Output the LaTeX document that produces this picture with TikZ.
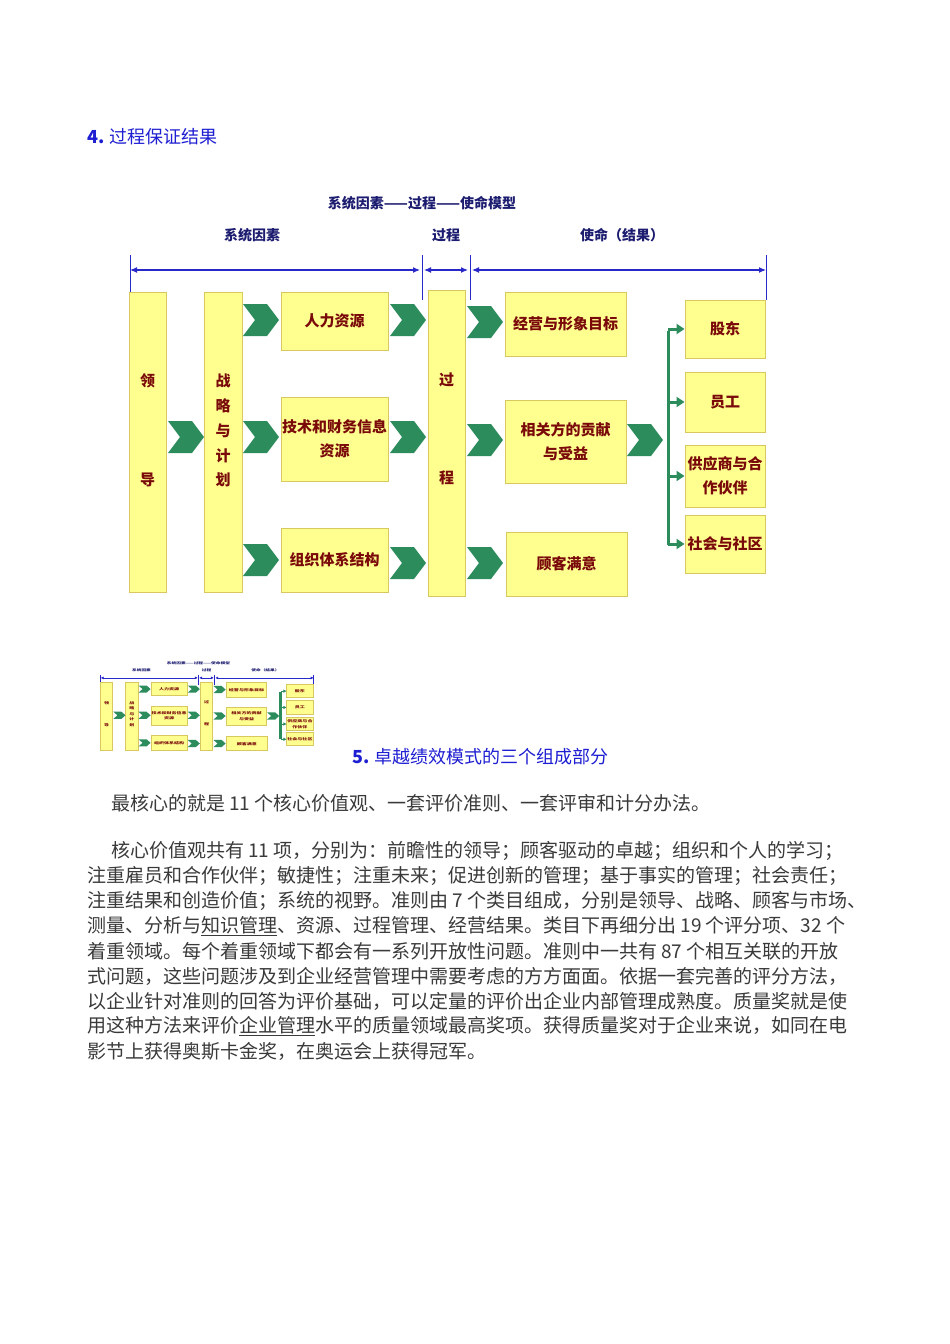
\documentclass[tikz,border=0pt]{standalone}
\usepackage{fontspec}
\newfontfamily\cjk{Noto Sans CJK SC}
\usetikzlibrary{arrows.meta}
\definecolor{boxfill}{HTML}{FFFF90}
\definecolor{boxline}{HTML}{D8C860}
\definecolor{darkred}{HTML}{7A0A0A}
\definecolor{chev}{HTML}{2C8C5C}
\definecolor{navy}{HTML}{1C1C70}
\definecolor{barblue}{HTML}{2828C8}
\definecolor{headblue}{HTML}{1E1ED2}
\definecolor{bodytext}{HTML}{3A3A3A}
\tikzset{
  box/.style={draw=boxline, fill=boxfill, line width=1pt, inner sep=0pt, align=center,
    font=\cjk\bfseries\fontsize{15}{24}\selectfont, text=darkred},
  vtxt/.style={font=\cjk\bfseries\fontsize{15}{18}\selectfont, text=darkred, inner sep=0pt},
  hdr/.style={font=\cjk\bfseries\fontsize{14}{16}\selectfont, text=navy, inner sep=0pt},
  bar/.style={draw=barblue, line width=1.2pt, {Latex[length=7pt,width=6pt]}-{Latex[length=7pt,width=6pt]}},
  tick/.style={draw=barblue, line width=1pt},
  garrow/.style={draw=chev, line width=3pt, -{Triangle[length=8pt,width=10pt]}},
  body/.style={anchor=west, inner sep=0pt, font=\cjk\fontsize{19}{20}\selectfont, text=bodytext},
  head/.style={anchor=west, inner sep=0pt, font=\cjk\fontsize{18}{20}\selectfont, text=headblue},
}
\newcommand\chevr[2]{\fill[chev] (#1,#2-16) -- ++(24,0) -- ++(12,16) -- ++(-12,16) -- ++(-24,0) -- ++(12,-16) -- cycle;}
\newcommand\drawdiagram{%
  \node[hdr] (title) at (422,203) {系统因素——过程——使命模型};
  \node[hdr] (h1) at (252,235) {系统因素};
  \node[hdr] (h2) at (446,235) {过程};
  \node[hdr] (h3) at (622,235) {使命（结果）};
  \coordinate (t1) at (130,255); \coordinate (t2) at (422,255);
  \coordinate (t3) at (470,255); \coordinate (t4) at (766,255);
  \draw[tick] (t1) -- ++(0,45); \draw[tick] (t2) -- ++(0,45);
  \draw[tick] (t3) -- ++(0,45); \draw[tick] (t4) -- ++(0,45);
  \draw[bar] ([yshift=-15pt]t1) -- ([yshift=-15pt,xshift=-2pt]t2);
  \draw[bar] ([yshift=-15pt,xshift=2pt]t2) -- ([yshift=-15pt,xshift=-2pt]t3);
  \draw[bar] ([yshift=-15pt,xshift=2pt]t3) -- ([yshift=-15pt]t4);
  \node[box, minimum width=37pt, minimum height=300pt] (lead) at (147.5,442) {};
  \node[vtxt] at (147.5,381) {领}; \node[vtxt] at (147.5,480) {导};
  \node[box, minimum width=38pt, minimum height=300pt] (strat) at (223,442) {};
  \node[vtxt] at (223,381) {战}; \node[vtxt] at (223,406) {略}; \node[vtxt] at (223,431) {与};
  \node[vtxt] at (223,456) {计}; \node[vtxt] at (223,480) {划};
  \node[box, minimum width=107pt, minimum height=58pt] (hr) at (334.5,321) {人力资源};
  \node[box, minimum width=107pt, minimum height=84pt] (tech) at (334.5,439) {技术和财务信息\\资源};
  \node[box, minimum width=107pt, minimum height=64pt] (org) at (334.5,560) {组织体系结构};
  \node[box, minimum width=37pt, minimum height=306pt] (proc) at (446.5,443) {};
  \node[vtxt] at (446.5,380) {过}; \node[vtxt] at (446.5,478) {程};
  \node[box, minimum width=121pt, minimum height=64pt] (goal) at (565.5,324) {经营与形象目标};
  \node[box, minimum width=121pt, minimum height=83pt] (stake) at (565.5,441.5) {相关方的贡献\\与受益};
  \node[box, minimum width=121pt, minimum height=64pt] (cust) at (566.5,564) {顾客满意};
  \node[box, minimum width=80pt, minimum height=58pt] (sh) at (725,329) {股东};
  \node[box, minimum width=80pt, minimum height=60pt] (emp) at (725,402) {员工};
  \node[box, minimum width=80pt, minimum height=62pt] (sup) at (725,476) {供应商与合\\作伙伴};
  \node[box, minimum width=80pt, minimum height=58pt] (soc) at (725,544) {社会与社区};
  \chevr{168}{437}
  \chevr{243}{320}\chevr{243}{437}\chevr{243}{560}
  \chevr{390}{320}\chevr{390}{437}\chevr{390}{563}
  \chevr{467}{322}\chevr{467}{440}\chevr{467}{563}
  \chevr{627}{440}
  \coordinate (br) at (668,331);
  \coordinate (bre) at (668,545);
  \draw[draw=chev, line width=3pt] (br) -- (bre);
  \draw[garrow] (sh.west -| br) -- (sh.west);
  \draw[garrow] (emp.west -| br) -- (emp.west);
  \draw[garrow] (sup.west -| br) -- (sup.west);
  \draw[garrow] (soc.west -| br) -- (soc.west);
}
\begin{document}
\begin{tikzpicture}[x=1pt,y=-1pt]
\fill[white] (0,0) rectangle (950,1344);
\useasboundingbox (0,0) rectangle (950,1344);
\node[head] (s4) at (87,137) {\textbf{4.} 过程保证结果};
\begin{scope}[name prefix=main-]
\drawdiagram
\end{scope}
\begin{scope}[name prefix=thumb-, xshift=57.1pt, yshift=-617.4pt, xscale=0.335, yscale=0.224, transform shape,
  garrow/.style={draw=chev, line width=1pt, -{Triangle[length=3pt,width=3pt]}},
  bar/.style={draw=barblue, line width=0.6pt, {Latex[length=3pt,width=3pt]}-{Latex[length=3pt,width=3pt]}},
  tick/.style={draw=barblue, line width=0.5pt}]
\drawdiagram
\end{scope}
\node[head] (s5) at (352,757) {\textbf{5.} 卓越绩效模式的三个组成部分};
\node[body] (l1) at (111,803) {最核心的就是 11 个核心价值观、一套评价准则、一套评审和计分办法。};
\node[body] (l2) at (111,851) {核心价值观共有 11 项，分别为：前瞻性的领导；顾客驱动的卓越；组织和个人的学习；};
\node[body] (l3) at (87,876) {注重雇员和合作伙伴；敏捷性；注重未来；促进创新的管理；基于事实的管理；社会责任；};
\node[body] (l4) at (87,901) {注重结果和创造价值；系统的视野。准则由 7 个类目组成，分别是领导、战略、顾客与市场、};
\node[body] (l5) at (87,926) {测量、分析与\underline{知识管理}、资源、过程管理、经营结果。类目下再细分出 19 个评分项、32 个};
\node[body] (l6) at (87,951) {着重领域。每个着重领域下都会有一系列开放性问题。准则中一共有 87 个相互关联的开放};
\node[body] (l7) at (87,976) {式问题，这些问题涉及到企业经营管理中需要考虑的方方面面。依据一套完善的评分方法，};
\node[body] (l8) at (87,1001) {以企业针对准则的回答为评价基础，可以定量的评价出企业内部管理成熟度。质量奖就是使};
\node[body] (l9) at (87,1026) {用这种方法来评价\underline{企业管理}水平的质量领域最高奖项。获得质量奖对于企业来说，如同在电};
\node[body] (l10) at (87,1051) {影节上获得奥斯卡金奖，在奥运会上获得冠军。};
\end{tikzpicture}
\end{document}
